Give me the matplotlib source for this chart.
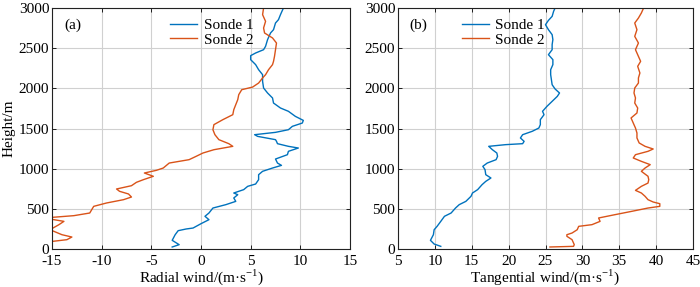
import matplotlib
matplotlib.use("Agg")
import matplotlib.pyplot as plt

plt.rcParams['font.family'] = ['Liberation Serif', 'DejaVu Serif']
plt.rcParams['mathtext.fontset'] = 'custom'
plt.rcParams['mathtext.rm'] = 'Liberation Serif'
plt.rcParams['axes.unicode_minus'] = False

# Panel (a): radial wind
h_a1 = [25, 54, 108, 178, 228, 249, 261, 315, 365, 407, 448, 510, 552, 593, 635, 676, 697, 739, 780, 809,
        863, 925, 967, 1008, 1041, 1070, 1120, 1174, 1216, 1257, 1278, 1311, 1340, 1361, 1402, 1423, 1452,
        1485, 1527, 1568, 1601, 1651, 1714, 1755, 1817, 1880, 1942, 2004, 2087, 2170, 2232, 2295, 2357,
        2407, 2440, 2481, 2523, 2606, 2689, 2730, 2813, 2855, 2917, 3000]
rad_a1 = [-2.9, -2.2, -2.9, -2.6, -2.3, -1.5, -0.8, 0.0, 0.8, 0.4, 0.8, 1.2, 2.5, 3.5, 3.3, 3.7, 3.3, 4.3, 4.7, 5.5,
          5.8, 5.8, 6.2, 7.2, 8.1, 7.7, 7.5, 8.7, 8.8, 9.8, 8.8, 7.7, 7.6, 7.5, 5.7, 5.4, 7.5,
          8.8, 9.2, 10.2, 10.3, 9.5, 8.8, 8.0, 7.3, 7.2, 6.7, 6.3, 6.2, 6.2, 5.8, 5.5, 5.0,
          5.0, 5.5, 6.3, 6.5, 6.7, 7.0, 7.3, 7.5, 7.8, 8.0, 8.3]

h_a2 = [87, 116, 149, 178, 240, 303, 344, 365, 386, 415, 448, 490, 531, 573, 614, 647, 685, 718, 747, 788,
        830, 863, 905, 946, 979, 1008, 1070, 1112, 1153, 1195, 1236, 1278, 1311, 1361, 1423, 1485, 1548,
        1610, 1672, 1734, 1797, 1859, 1921, 1983, 2016, 2066, 2129, 2170, 2232, 2295, 2336, 2398, 2481,
        2564, 2627, 2689, 2751, 2834, 2917, 3000]
rad_a2 = [-15.5, -13.5, -13.0, -14.0, -15.2, -14.3, -13.8, -14.8, -15.8, -12.8, -11.2, -11.0, -10.8, -9.5, -7.8,
          -7.0, -7.3, -8.2, -8.5, -7.0, -6.5, -5.8, -4.8, -5.7, -4.5, -3.8, -3.2, -1.2, -0.5, 0.2, 1.3, 3.2,
          2.8, 1.8, 1.4, 1.2, 1.3, 2.2, 3.2, 3.3, 3.5, 3.7, 3.8, 4.1, 5.2, 5.8, 6.2, 6.5, 6.8, 7.2, 7.3,
          7.4, 7.5, 7.6, 7.2, 6.4, 6.3, 6.5, 6.2, 6.3]

# Panel (b): tangential wind
h_b1 = [33, 62, 108, 178, 240, 282, 344, 407, 448, 510, 552, 593, 656, 697, 739, 801, 842, 884, 925, 988,
        1029, 1070, 1112, 1153, 1195, 1236, 1278, 1299, 1311, 1340, 1382, 1423, 1465, 1506, 1548, 1610,
        1672, 1714, 1776, 1838, 1900, 1942, 1992, 2045, 2108, 2170, 2232, 2295, 2357, 2419, 2481, 2544,
        2606, 2668, 2730, 2792, 2846, 2896, 2959, 3000]
tan_b1 = [10.8, 9.9, 9.4, 9.8, 9.9, 10.3, 10.8, 11.3, 12.2, 12.8, 13.3, 14.2, 14.9, 15.1, 15.8, 16.4, 16.9,
          17.6, 16.9, 16.8, 16.5, 17.1, 18.3, 18.5, 18.4, 17.8, 17.3, 19.6, 21.9, 22.1, 21.6, 21.9, 23.2,
          24.1, 24.3, 24.3, 24.8, 24.6, 25.2, 25.9, 26.6, 26.9, 26.3, 25.9, 25.8, 25.7, 25.7, 26.0, 26.0,
          25.4, 25.9, 25.9, 26.0, 25.9, 25.4, 25.0, 25.4, 25.9, 26.1, 26.3]

h_b2 = [25, 33, 54, 116, 158, 178, 199, 240, 282, 303, 344, 386, 427, 469, 510, 531, 564, 585, 614, 656,
        697, 730, 780, 821, 863, 905, 967, 1008, 1050, 1091, 1133, 1174, 1216, 1245, 1278, 1320, 1382,
        1444, 1506, 1568, 1631, 1693, 1755, 1817, 1880, 1942, 2004, 2066, 2129, 2191, 2274, 2336, 2398,
        2481, 2564, 2647, 2730, 2813, 2875, 2938, 3000]
tan_b2 = [25.6, 28.8, 28.9, 28.6, 27.9, 27.9, 28.6, 29.3, 29.5, 31.3, 32.4, 32.2, 34.4, 36.7, 38.9, 40.5,
          40.5, 39.6, 38.9, 38.5, 38.0, 37.2, 38.0, 38.9, 39.0, 38.9, 38.0, 38.5, 39.2, 38.0, 36.9, 37.2,
          38.9, 39.6, 38.5, 37.7, 37.4, 37.4, 37.2, 36.9, 36.6, 37.4, 37.5, 37.1, 37.2, 37.0, 37.1, 37.6,
          37.6, 37.8, 37.5, 37.9, 37.6, 37.2, 37.6, 37.1, 37.4, 37.1, 37.6, 38.0, 38.3]

series_labels = ['Sonde 1', 'Sonde 2']
panel_labels = ['(a)', '(b)']
xlabels = ['Radial wind/(m·s$^{\\mathregular{-1}}$)', 'Tangential wind/(m·s$^{\\mathregular{-1}}$)']

c1 = '#0072BD'
c2 = '#D95319'

fig = plt.figure(figsize=(7.0, 2.87), dpi=100)
axa = fig.add_axes([52 / 700, 38 / 287, 298 / 700, 241 / 287])
axb = fig.add_axes([398 / 700, 38 / 287, 295 / 700, 241 / 287])

axa.plot(rad_a1, h_a1, color=c1, lw=1.0, label=series_labels[0])
axa.plot(rad_a2, h_a2, color=c2, lw=1.0, label=series_labels[1])
axb.plot(tan_b1, h_b1, color=c1, lw=1.0, label=series_labels[0])
axb.plot(tan_b2, h_b2, color=c2, lw=1.0, label=series_labels[1])

axa.set_xlim(-15, 15)
axa.set_xticks(range(-15, 16, 5))
axb.set_xlim(5, 45)
axb.set_xticks(range(5, 46, 5))

for ax, pl, xl, lx in [(axa, panel_labels[0], xlabels[0], 0.36), (axb, panel_labels[1], xlabels[1], 0.18)]:
    ax.set_ylim(0, 3000)
    ax.set_yticks(range(0, 3001, 500))
    ax.grid(True, color='#d0d0d0', lw=0.8)
    ax.set_axisbelow(True)
    ax.tick_params(direction='in', top=True, right=True, labelsize=11, length=3, width=0.6)
    ax.tick_params(axis='x', pad=4)
    ax.tick_params(axis='y', pad=2)
    for s in ax.spines.values():
        s.set_linewidth(0.8)
        s.set_color('#222222')
    ax.set_xlabel(xl, fontsize=11, labelpad=0)
    ax.text(0.04, 0.93, pl, transform=ax.transAxes, fontsize=11, va='center', ha='left')
    ax.legend(loc='upper left', bbox_to_anchor=(lx, 1.0), frameon=False, fontsize=11,
              handlelength=1.8, handletextpad=0.4, labelspacing=0.05, borderaxespad=0.3)

axa.set_ylabel('Height/m', fontsize=11, labelpad=2)

fig.savefig('out.png', dpi=100)
